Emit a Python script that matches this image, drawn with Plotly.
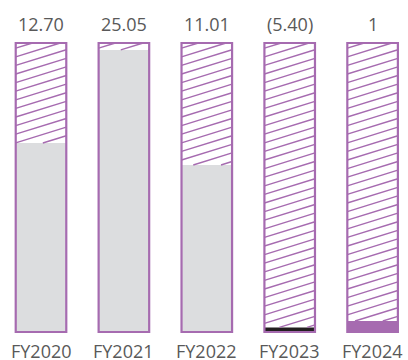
import plotly.graph_objects as go

categories = ["FY2020", "FY2021", "FY2022", "FY2023", "FY2024"]
value_labels = ["12.70", "25.05", "11.01", "(5.40)", "1"]
fill_pct = [65.4, 97.6, 57.8, 1.6, 3.8]
fill_colors = ["#DCDDDF", "#DCDDDF", "#DCDDDF", "#231F20", "#A66BB0"]

PURPLE = "#A66BB0"
TEXT = "#595959"
FULL = 100

W, H = 408, 360
x_unit = 82.9           # px per category
x0_px = 41              # px of first center
y_unit = 2.89           # px per percent
y0_px = 332             # px of zero
xr = [-x0_px / x_unit, (W - x0_px) / x_unit]
yr = [-(H - y0_px) / y_unit, y0_px / y_unit]
bw = 0.61

xs = list(range(len(categories)))

fig = go.Figure()
fig.add_trace(go.Bar(x=xs, y=fill_pct, width=bw, marker=dict(color=fill_colors, line=dict(width=0)),
                     hoverinfo="skip", showlegend=False))
fig.add_trace(go.Bar(x=xs, y=[FULL] * len(xs), width=bw,
                     marker=dict(color="rgba(0,0,0,0)", line=dict(color=PURPLE, width=2.2)),
                     hoverinfo="skip", showlegend=False))

# hatch lines in the unfilled part of each bar
slope_px = 0.31
spacing_px = 8.6
slope = slope_px * x_unit / y_unit
spacing = spacing_px / y_unit
hx, hy = [], []
for i, f in enumerate(fill_pct):
    xl, xr_ = i - bw / 2, i + bw / 2
    lo, hi = f, FULL
    k = -60
    while True:
        b = k * spacing  # line: y = b + slope*(x - xl)
        k += 1
        if b > hi:
            break
        xa = xl + (lo - b) / slope
        xb = xl + (hi - b) / slope
        xs0, xs1 = max(xl, xa), min(xr_, xb)
        if xs1 <= xs0:
            continue
        hx += [xs0, xs1, None]
        hy += [b + slope * (xs0 - xl), b + slope * (xs1 - xl), None]
fig.add_trace(go.Scatter(x=hx, y=hy, mode="lines", line=dict(color=PURPLE, width=1.4),
                         hoverinfo="skip", showlegend=False))

for i, lab in enumerate(value_labels):
    fig.add_annotation(x=i, y=(y0_px - 24) / y_unit, text=lab, showarrow=False,
                       xref="x", yref="y", yanchor="middle",
                       font=dict(family="Open Sans", size=18, color=TEXT))
for i, c in enumerate(categories):
    fig.add_annotation(x=i, y=(y0_px - 351) / y_unit, text=c, showarrow=False,
                       xref="x", yref="y", yanchor="middle",
                       font=dict(family="Open Sans", size=18, color=TEXT))

fig.update_layout(width=W, height=H, margin=dict(l=0, r=0, t=0, b=0),
                  barmode="overlay", plot_bgcolor="white", paper_bgcolor="white",
                  xaxis=dict(range=xr, visible=False, fixedrange=True),
                  yaxis=dict(range=yr, visible=False, fixedrange=True))
fig.write_html("out.html")
